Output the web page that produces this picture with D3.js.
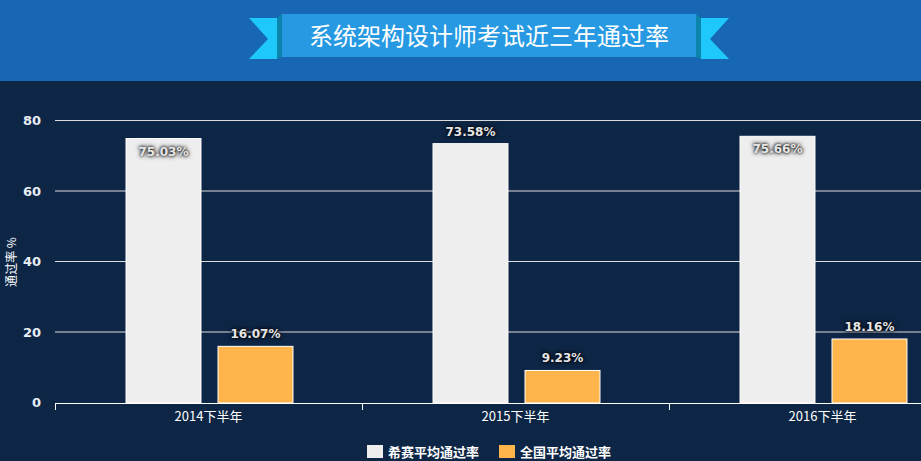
<!DOCTYPE html>
<html>
<head>
<meta charset="utf-8">
<script src="https://cdn.jsdelivr.net/npm/d3@7"></script>
<style>
    body { margin: 0; background: #0e2646; overflow: hidden; }
    svg { display: block; font-family: "Noto Sans CJK SC", "Noto Sans", sans-serif; }
    .label { font-size: 12px; font-weight: bold; fill: #e6e6e6;
        text-shadow: 0 0 3px #000, 0 0 5px #000; font-family: "DejaVu Sans", sans-serif; }
</style>
</head>
<body>
<div class="chart"></div>
<script>
// Chart data
let categories = ['2014下半年', '2015下半年', '2016下半年'],
    seriesNames = ['希赛平均通过率', '全国平均通过率'],
    xisaiRates = [75.03, 73.58, 75.66],
    nationalRates = [16.07, 9.23, 18.16],
    yTicks = [0, 20, 40, 60, 80],
    colors = ['#eeeeee', '#ffb44c'],
    title = '系统架构设计师考试近三年通过率',
    yTitle = '通过率 %';

let w = 921, h = 461,
    left = 55;

let svg = d3.select('.chart')
    .append('svg')
    .attr('width', w)
    .attr('height', h);

// Header band with the ribbon
svg.append('rect').attr('width', w).attr('height', 81).attr('fill', '#1767b5');
svg.append('rect').attr('y', 81).attr('width', w).attr('height', h - 81).attr('fill', '#0e2646');

svg.append('polygon').attr('points', '249,18 277,18 277,59 249,59 268,39').attr('fill', '#1ec8fa');
svg.append('polygon').attr('points', '729,18 701,18 701,59 729,59 710,39').attr('fill', '#1ec8fa');
svg.append('polygon').attr('points', '277,18 282,14 282,57 277,59').attr('fill', '#0b84ab');
svg.append('polygon').attr('points', '701,18 696,14 696,57 701,59').attr('fill', '#0b84ab');
svg.append('rect').attr('x', 282).attr('y', 14).attr('width', 414).attr('height', 43).attr('fill', '#2699e2');
svg.append('text')
    .attr('x', 489).attr('y', 45)
    .attr('text-anchor', 'middle')
    .attr('fill', '#ffffff')
    .style('font-size', '24px')
    .text(title);

// Scales
let x0 = d3.scaleBand()
    .domain(categories)
    .range([left, left + 307 * categories.length]);

let x1 = d3.scaleBand()
    .domain(seriesNames)
    .range([x0.bandwidth() * 0.2313, x0.bandwidth() * 0.7752])
    .paddingInner(0.185);

let y = d3.scaleLinear()
    .domain([0, 80])
    .range([403, 121]);

// Grid lines
svg.append('g')
    .selectAll('line')
    .data(yTicks.slice(1))
    .enter().append('line')
    .attr('x1', left).attr('x2', w)
    .attr('y1', (d) => y(d) - 0.5).attr('y2', (d) => y(d) - 0.5)
    .attr('stroke', '#dcdcdc');

// Y labels
svg.append('g')
    .selectAll('text')
    .data(yTicks)
    .enter().append('text')
    .attr('x', 41)
    .attr('y', (d) => y(d) + 4)
    .attr('text-anchor', 'end')
    .attr('fill', '#e8eef5')
    .style('font-size', '13px')
    .style('font-weight', 'bold')
    .style('font-family', '"DejaVu Sans", sans-serif')
    .text((d) => d);

svg.append('text')
    .attr('transform', 'translate(16,262) rotate(-90)')
    .attr('text-anchor', 'middle')
    .attr('fill', '#ffffff')
    .style('font-size', '12px')
    .text(yTitle);

// Bars
let rows = categories.map((c, i) => ({category: c, values: [xisaiRates[i], nationalRates[i]]}));

let groups = svg.append('g')
    .selectAll('g')
    .data(rows)
    .enter().append('g')
    .attr('transform', (d) => 'translate(' + x0(d.category) + ',0)');

let bars = groups.selectAll('g')
    .data((d) => d.values.map((v, j) => ({name: seriesNames[j], value: v, idx: j})))
    .enter().append('g');

bars.append('rect')
    .attr('x', (d) => x1(d.name))
    .attr('y', (d) => y(d.value))
    .attr('width', x1.bandwidth())
    .attr('height', (d) => y(0) - y(d.value))
    .attr('fill', (d) => colors[d.idx])
    .attr('stroke', '#ffffff')
    .attr('stroke-width', 1);

bars.append('text')
    .attr('class', 'label')
    .attr('x', (d) => x1(d.name) + x1.bandwidth() / 2)
    .attr('y', (d) => {
        let above = y(d.value) - 8;
        return above - 12 < y(80) ? y(d.value) + 17 : above;
    })
    .attr('text-anchor', 'middle')
    .text((d) => d.value.toFixed(2) + '%');

// X axis
svg.append('line')
    .attr('x1', left).attr('x2', w)
    .attr('y1', 403.5).attr('y2', 403.5)
    .attr('stroke', '#ffffff');

svg.append('g')
    .selectAll('line')
    .data(categories)
    .enter().append('line')
    .attr('x1', (d) => x0(d) + 0.5).attr('x2', (d) => x0(d) + 0.5)
    .attr('y1', 403).attr('y2', 410)
    .attr('stroke', '#ffffff');

svg.append('g')
    .selectAll('text')
    .data(categories)
    .enter().append('text')
    .attr('x', (d) => x0(d) + x0.bandwidth() / 2)
    .attr('y', 421)
    .attr('text-anchor', 'middle')
    .attr('fill', '#ffffff')
    .style('font-size', '13px')
    .text((d) => d);

// Legend
let legend = svg.append('g')
    .selectAll('g')
    .data(seriesNames)
    .enter().append('g')
    .attr('transform', (d, i) => 'translate(' + (367 + i * 132) + ',445)');

legend.append('rect')
    .attr('width', 16).attr('height', 13)
    .attr('fill', (d, i) => colors[i]);

legend.append('text')
    .attr('x', 21).attr('y', 12)
    .attr('fill', '#ffffff')
    .style('font-size', '13px')
    .style('font-weight', 'bold')
    .text((d) => d);
</script>
</body>
</html>
